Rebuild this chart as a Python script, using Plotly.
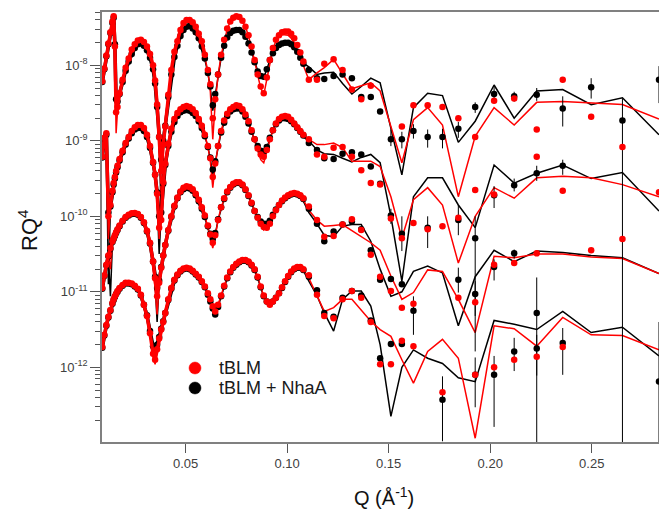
import plotly.graph_objects as go

# ---------------- Q grid (Å^-1) ----------------
Q_LOW = [0.0090, 0.0100, 0.0110, 0.0120, 0.0130, 0.0140, 0.0146, 0.0152, 0.0158, 0.0165,
         0.0175, 0.0190, 0.0205, 0.0220, 0.0235, 0.0250, 0.0265, 0.0280, 0.0295, 0.0310,
         0.0325, 0.0340, 0.0350, 0.0360, 0.0370, 0.0380, 0.0390, 0.0400, 0.0415, 0.0430,
         0.0445, 0.0460, 0.0475, 0.0490, 0.0505, 0.0520, 0.0535, 0.0550, 0.0565, 0.0580,
         0.0595, 0.0610, 0.0622, 0.0634, 0.0646, 0.0660, 0.0675, 0.0690, 0.0705, 0.0720,
         0.0735, 0.0750, 0.0765, 0.0780, 0.0795, 0.0810, 0.0825, 0.0840, 0.0855, 0.0870,
         0.0885, 0.0900, 0.0915, 0.0930, 0.0945, 0.0960, 0.0975, 0.0990, 0.1005, 0.1020,
         0.1035, 0.1050, 0.1065, 0.1080]
Q_HIGH = [0.1107, 0.1147, 0.1183, 0.1229, 0.1273, 0.1319, 0.1365, 0.1412, 0.1458, 0.1511,
          0.1565, 0.1622, 0.1692, 0.1765, 0.1843, 0.1926, 0.2019, 0.2118, 0.2229, 0.2357,
          0.2497, 0.2651, 0.2831]
Q = Q_LOW + Q_HIGH
N_CHAIN = 41  # densely sampled part (q <= 0.061) where the measured points merge into a band

# ---------------- log10(R Q^4) ----------------
# Set 1 (bottom)
s1_red = [-11.73, -11.57, -11.44, -11.33, -11.24, -11.15, -11.10, -11.06, -11.03, -10.99,
          -10.95, -10.91, -10.88, -10.88, -10.89, -10.92, -10.96, -11.04, -11.17, -11.32,
          -11.55, -11.82, -11.90, -11.76, -11.62, -11.50, -11.40, -11.28, -11.10, -10.95,
          -10.84, -10.77, -10.72, -10.69, -10.68, -10.69, -10.72, -10.76, -10.80, -10.86,
          -10.93, -11.02, -11.10, -11.19, -11.26, -11.17, -11.05, -10.92, -10.81, -10.73,
          -10.67, -10.63, -10.60, -10.58, -10.58, -10.60, -10.64, -10.70, -10.80, -10.93,
          -11.05, -11.13, -11.17, -11.13, -11.08, -11.02, -10.94, -10.86, -10.79, -10.73,
          -10.69, -10.67, -10.67, -10.70,
          -10.78, -11.04, -11.32, -11.35, -11.10, -10.99, -11.08, -11.40, -11.96, -11.96,
          -11.65, -11.72, None, -12.33, None, -12.10, -12.00, -11.90, -11.86, -11.73,
          None, None, None]
s1_black = [-11.74, -11.58, -11.45, -11.34, -11.25, -11.16, -11.11, -11.07, -11.03, -11.00,
            -10.96, -10.92, -10.89, -10.89, -10.90, -10.93, -10.97, -11.05, -11.17, -11.31,
            -11.52, -11.72, -11.77, -11.70, -11.60, -11.49, -11.39, -11.28, -11.11, -10.96,
            -10.85, -10.78, -10.73, -10.70, -10.69, -10.70, -10.73, -10.77, -10.81, -10.87,
            -10.94, -11.04, -11.13, -11.22, -11.30, -11.20, -11.06, -10.93, -10.82, -10.74,
            -10.68, -10.64, -10.61, -10.59, -10.59, -10.61, -10.65, -10.71, -10.81, -10.94,
            -11.06, -11.13, -11.16, -11.13, -11.08, -11.02, -10.95, -10.87, -10.80, -10.74,
            -10.70, -10.68, -10.68, -10.71,
            -10.80, -10.98, -11.28, -11.33, -11.08, -10.99, -11.05, -11.38, -11.88, -11.69,
            -11.69, None, None, -12.43, None, -12.10, -12.10, -11.79, -11.75, -11.68,
            None, None, -12.19]
s1_black_err_hi = [None, None, None, None, None, None, None, None, None, None,
                   None, None, None, -12.12, None, -11.87, -11.85, -11.61, -11.57, -11.48,
                   None, None, -11.40]
s1_black_err_lo = [None, None, None, None, None, None, None, None, None, None,
                   None, None, None, -12.98, None, -12.53, -12.79, -12.05, -12.11, -12.10,
                   None, None, -14.0]
s1_red_fit = [-11.73, -11.57, -11.44, -11.33, -11.24, -11.15, -11.10, -11.06, -11.03, -10.99,
              -10.95, -10.91, -10.88, -10.88, -10.89, -10.92, -10.96, -11.04, -11.17, -11.33,
              -11.57, -11.86, -11.96, -11.78, -11.63, -11.50, -11.40, -11.28, -11.10, -10.95,
              -10.84, -10.77, -10.72, -10.69, -10.68, -10.69, -10.72, -10.76, -10.81, -10.87,
              -10.94, -11.04, -11.13, -11.22, -11.28, -11.18, -11.05, -10.92, -10.81, -10.73,
              -10.67, -10.63, -10.60, -10.58, -10.58, -10.60, -10.64, -10.70, -10.80, -10.93,
              -11.06, -11.14, -11.17, -11.13, -11.08, -11.02, -10.94, -10.86, -10.79, -10.73,
              -10.69, -10.67, -10.67, -10.71,
              -10.82, -11.05, -11.26, -11.21, -11.10, -11.10, -11.25, -11.39, -11.50, -11.59,
              -11.90, -12.21, -11.79, -11.63, -11.88, -12.94, -11.45, -11.49, -11.72, -11.34,
              -11.57, -11.58, -11.77]
s1_black_fit = [-11.74, -11.58, -11.45, -11.34, -11.25, -11.16, -11.11, -11.07, -11.03, -11.00,
                -10.96, -10.92, -10.89, -10.89, -10.90, -10.93, -10.98, -11.06, -11.18, -11.33,
                -11.55, -11.80, -11.85, -11.72, -11.60, -11.49, -11.39, -11.28, -11.11, -10.96,
                -10.85, -10.78, -10.73, -10.70, -10.69, -10.70, -10.73, -10.77, -10.82, -10.88,
                -10.95, -11.05, -11.15, -11.26, -11.32, -11.21, -11.07, -10.94, -10.83, -10.75,
                -10.69, -10.65, -10.62, -10.60, -10.60, -10.62, -10.66, -10.72, -10.82, -10.95,
                -11.07, -11.15, -11.19, -11.14, -11.08, -11.02, -10.95, -10.87, -10.80, -10.74,
                -10.70, -10.68, -10.68, -10.72,
                -10.86, -11.05, -11.28, -11.52, -11.10, -10.99, -10.99, -11.19, -11.70, -12.65,
                -12.00, -11.77, -11.88, -11.95, -12.14, -12.19, -11.38, -11.43, -11.50, -11.26,
                -11.54, -11.47, -11.85]

# Set 2
s2_red = [-9.21, -8.96, -8.90, -10.00, -9.85, -9.66, -9.56, -9.48, -9.40, -9.33,
          -9.24, -9.13, -9.03, -8.95, -8.87, -8.82, -8.79, -8.79, -8.83, -8.92,
          -9.07, -9.28, -9.45, -9.70, -10.15, -10.05, -9.55, -9.30, -9.04, -8.84,
          -8.71, -8.63, -8.58, -8.55, -8.54, -8.55, -8.58, -8.63, -8.71, -8.80,
          -8.92, -9.07, -9.23, -9.48, -9.30, -9.07, -8.87, -8.73, -8.64, -8.58,
          -8.55, -8.53, -8.54, -8.58, -8.65, -8.74, -8.86, -8.98, -9.10, -9.18,
          -9.21, -9.12, -8.98, -8.86, -8.77, -8.71, -8.68, -8.67, -8.68, -8.72,
          -8.77, -8.82, -8.87, -8.92,
          -8.98, -9.18, -9.21, -9.09, -9.08, -9.21, -9.39, -9.56, -9.58, -10.03,
          -10.29, -10.09, -10.17, -10.13, -10.02, -9.65, -9.71, None, -9.21, -9.66,
          None, None, -9.68]
s2_black = [-9.22, -8.98, -8.92, -9.95, -9.87, -9.68, -9.58, -9.50, -9.42, -9.35,
            -9.26, -9.15, -9.05, -8.97, -8.90, -8.85, -8.83, -8.83, -8.87, -8.95,
            -9.09, -9.29, -9.45, -9.68, -10.00, -9.95, -9.57, -9.32, -9.07, -8.88,
            -8.75, -8.67, -8.62, -8.60, -8.59, -8.60, -8.63, -8.67, -8.74, -8.83,
            -8.94, -9.08, -9.22, -9.38, -9.27, -9.07, -8.89, -8.76, -8.67, -8.61,
            -8.58, -8.57, -8.57, -8.61, -8.68, -8.77, -8.88, -8.98, -9.07, -9.13,
            -9.14, -9.08, -8.96, -8.86, -8.78, -8.73, -8.70, -8.70, -8.71, -8.74,
            -8.78, -8.83, -8.88, -8.93,
            -9.03, -9.12, -9.23, -9.24, -9.17, -9.15, -9.18, -9.34, -9.57, -9.99,
            -10.23, None, -10.15, None, -10.05, -10.29, -9.72, -9.59, -9.43, -9.33,
            None, None, None]
s2_black_err_hi = [None, None, None, None, None, None, None, None, None, -9.90,
                   -10.00, None, -10.00, None, -9.85, -10.00, -9.60, -9.50, -9.33, -9.25,
                   None, None, None]
s2_black_err_lo = [None, None, None, None, None, None, None, None, None, -10.10,
                   -10.46, None, -10.42, None, -10.25, -11.79, -9.89, -9.67, -9.53, -9.45,
                   None, None, None]
s2_red_fit = [-9.21, -8.96, -8.90, -10.30, -9.87, -9.66, -9.56, -9.48, -9.40, -9.33,
              -9.24, -9.13, -9.03, -8.95, -8.87, -8.82, -8.79, -8.79, -8.83, -8.92,
              -9.07, -9.28, -9.46, -9.75, -10.30, -10.00, -9.55, -9.30, -9.04, -8.84,
              -8.71, -8.63, -8.58, -8.55, -8.54, -8.55, -8.58, -8.63, -8.71, -8.80,
              -8.92, -9.08, -9.27, -9.62, -9.32, -9.07, -8.87, -8.73, -8.64, -8.58,
              -8.54, -8.52, -8.52, -8.56, -8.64, -8.74, -8.87, -9.00, -9.14, -9.25,
              -9.29, -9.15, -8.98, -8.85, -8.76, -8.70, -8.67, -8.66, -8.67, -8.71,
              -8.76, -8.82, -8.87, -8.92,
              -8.98, -9.05, -9.05, -9.03, -9.09, -9.27, -9.27, -9.27, -9.34, -9.74,
              -10.29, -9.78, -9.62, -9.85, -10.62, -10.00, -9.62, -9.76, -9.49, -9.47,
              -9.49, -9.58, -9.74]
s2_black_fit = [-9.22, -8.98, -8.92, -10.90, -9.90, -9.68, -9.58, -9.50, -9.42, -9.35,
                -9.26, -9.15, -9.05, -8.97, -8.90, -8.85, -8.83, -8.83, -8.87, -8.95,
                -9.09, -9.29, -9.47, -9.75, -10.50, -9.98, -9.58, -9.32, -9.07, -8.88,
                -8.75, -8.67, -8.62, -8.60, -8.59, -8.60, -8.63, -8.67, -8.74, -8.83,
                -8.94, -9.08, -9.24, -9.45, -9.28, -9.07, -8.89, -8.76, -8.67, -8.61,
                -8.58, -8.57, -8.57, -8.61, -8.68, -8.77, -8.88, -8.99, -9.09, -9.16,
                -9.18, -9.09, -8.96, -8.86, -8.78, -8.73, -8.71, -8.70, -8.71, -8.74,
                -8.79, -8.84, -8.89, -8.95,
                -9.00, -9.12, -9.17, -9.18, -9.23, -9.28, -9.22, -9.18, -9.29, -10.00,
                -10.86, -9.74, -9.49, -9.49, -9.85, -10.15, -9.32, -9.56, -9.43, -9.32,
                -9.50, -9.42, -9.93]

# Set 3
s3_red = [-10.95, -10.78, -10.64, -10.52, -10.42, -10.33, -10.29, -10.25, -10.21, -10.17,
          -10.12, -10.06, -10.01, -9.98, -9.96, -9.955, -9.97, -10.01, -10.08, -10.19,
          -10.35, -10.60, -10.82, -11.06, -10.88, -10.68, -10.52, -10.38, -10.18, -10.00,
          -9.86, -9.75, -9.67, -9.62, -9.60, -9.61, -9.64, -9.70, -9.78, -9.88,
          -9.99, -10.12, -10.24, -10.35, -10.25, -10.05, -9.88, -9.76, -9.67, -9.61,
          -9.57, -9.55, -9.55, -9.58, -9.64, -9.72, -9.82, -9.93, -10.02, -10.10,
          -10.14, -10.15, -10.10, -10.00, -9.92, -9.85, -9.79, -9.75, -9.72, -9.70,
          -9.69, -9.70, -9.72, -9.76,
          -9.87, -10.05, -10.27, -10.26, -10.11, -10.04, -10.18, -10.51, -10.80, -10.99,
          -11.21, -11.16, None, None, -11.08, -11.14, -10.64, -10.62, -10.49, None,
          -10.45, -10.30, None]
s3_black = [-10.96, -10.79, -10.65, -10.53, -10.43, -10.34, -10.30, -10.26, -10.22, -10.18,
            -10.13, -10.07, -10.02, -9.99, -9.97, -9.965, -9.98, -10.02, -10.09, -10.20,
            -10.36, -10.60, -10.80, -10.95, -10.85, -10.67, -10.52, -10.38, -10.19, -10.01,
            -9.87, -9.76, -9.68, -9.64, -9.62, -9.63, -9.66, -9.72, -9.80, -9.90,
            -10.01, -10.13, -10.23, -10.30, -10.22, -10.04, -9.88, -9.77, -9.68, -9.62,
            -9.58, -9.56, -9.56, -9.59, -9.65, -9.73, -9.83, -9.93, -10.01, -10.07,
            -10.10, -10.10, -10.06, -9.98, -9.91, -9.85, -9.80, -9.76, -9.73, -9.71,
            -9.70, -9.71, -9.73, -9.77,
            -9.90, -10.10, -10.33, -10.20, -10.11, -10.07, -10.17, -10.45, -10.84, -10.83,
            -10.90, -11.25, None, None, -10.84, -11.03, -10.67, -10.49, -11.28, None,
            None, None, None]
s3_black_err_hi = [None, None, None, None, None, None, None, None, None, None,
                   None, -11.06, None, None, -10.68, -10.86, -10.57, -10.44, -10.81, None,
                   None, None, None]
s3_black_err_lo = [None, None, None, None, None, None, None, None, None, None,
                   None, -11.57, None, None, -11.01, -11.32, -10.85, -10.56, -14.0, None,
                   None, None, None]
s3_red_fit = [-10.95, -10.78, -10.64, -10.52, -10.70, -10.35, -10.30, -10.25, -10.21, -10.17,
              -10.12, -10.06, -10.01, -9.98, -9.96, -9.955, -9.97, -10.01, -10.08, -10.19,
              -10.36, -10.64, -10.92, -11.30, -10.90, -10.69, -10.52, -10.38, -10.18, -10.00,
              -9.86, -9.75, -9.67, -9.62, -9.60, -9.61, -9.64, -9.70, -9.78, -9.88,
              -10.00, -10.14, -10.28, -10.42, -10.27, -10.05, -9.88, -9.76, -9.67, -9.61,
              -9.57, -9.55, -9.55, -9.58, -9.64, -9.72, -9.82, -9.93, -10.03, -10.12,
              -10.18, -10.13, -10.05, -9.97, -9.89, -9.83, -9.78, -9.74, -9.71, -9.69,
              -9.68, -9.69, -9.72, -9.78,
              -9.92, -10.05, -10.13, -10.12, -10.11, -10.19, -10.27, -10.35, -10.45, -10.79,
              -11.10, -11.01, -10.71, -10.73, -11.10, -11.54, -10.53, -10.55, -10.50, -10.50,
              -10.54, -10.56, -10.76]
s3_black_fit = [-10.96, -10.79, -10.65, -10.53, -11.06, -10.36, -10.31, -10.26, -10.22, -10.18,
                -10.13, -10.07, -10.02, -9.99, -9.97, -9.965, -9.98, -10.02, -10.09, -10.20,
                -10.37, -10.63, -10.88, -11.40, -10.88, -10.68, -10.52, -10.38, -10.19, -10.01,
                -9.87, -9.76, -9.68, -9.64, -9.62, -9.63, -9.66, -9.72, -9.80, -9.90,
                -10.02, -10.15, -10.27, -10.33, -10.24, -10.05, -9.89, -9.77, -9.68, -9.62,
                -9.58, -9.56, -9.56, -9.59, -9.65, -9.73, -9.83, -9.93, -10.02, -10.08,
                -10.12, -10.11, -10.06, -9.98, -9.91, -9.85, -9.80, -9.76, -9.73, -9.71,
                -9.70, -9.71, -9.74, -9.80,
                -9.95, -10.10, -10.25, -10.27, -10.13, -10.11, -10.11, -10.33, -10.70, -11.06,
                -11.00, -10.73, -10.66, -10.75, -11.45, -10.80, -10.45, -10.60, -10.46, -10.48,
                -10.52, -10.55, -10.76]

# Set 4 (top)
s4_red = [-8.21, -8.04, -7.87, -7.71, -7.56, -7.42, -7.35, -7.75, -8.62, -8.55,
          -8.37, -8.19, -8.03, -7.91, -7.79, -7.72, -7.67, -7.66, -7.69, -7.75,
          -7.85, -8.00, -8.20, -8.52, -8.95, -9.40, -9.05, -8.81, -8.39, -8.06,
          -7.82, -7.68, -7.53, -7.44, -7.40, -7.40, -7.43, -7.49, -7.58, -7.68,
          -7.86, -8.06, -8.25, -8.70, -8.45, -8.12, -7.86, -7.66, -7.51, -7.42,
          -7.37, -7.35, -7.36, -7.41, -7.49, -7.60, -7.75, -7.93, -8.12, -8.28,
          -8.37, -8.16, -7.93, -7.77, -7.66, -7.60, -7.56, -7.55, -7.55, -7.58,
          -7.64, -7.73, -7.83, -7.95,
          -8.19, -8.19, -7.98, -7.92, -8.06, -8.32, -8.45, -8.27, None, None,
          -8.81, -8.53, -8.53, -8.55, -8.70, -8.95, -8.47, -8.44, -8.85, -8.19,
          -8.68, -9.08, None]
s4_black = [-8.22, -8.05, -7.88, -7.72, -7.57, -7.44, -7.37, -7.72, -8.45, -8.48,
            -8.38, -8.22, -8.07, -7.95, -7.85, -7.77, -7.72, -7.71, -7.74, -7.80,
            -7.90, -8.05, -8.24, -8.55, -8.95, -9.25, -9.00, -8.80, -8.42, -8.12,
            -7.89, -7.74, -7.61, -7.53, -7.49, -7.48, -7.51, -7.56, -7.64, -7.75,
            -7.91, -8.10, -8.28, -8.53, -8.38, -8.12, -7.90, -7.74, -7.63, -7.57,
            -7.54, -7.53, -7.53, -7.56, -7.62, -7.71, -7.83, -7.96, -8.08, -8.14,
            -8.15, -8.05, -7.93, -7.84, -7.77, -7.73, -7.71, -7.70, -7.70, -7.72,
            -7.76, -7.82, -7.90, -7.98,
            -8.06, -8.17, -8.18, -8.14, -8.12, -8.17, -8.42, -8.42, -8.61, -8.98,
            -8.98, -8.87, -8.95, -8.95, -8.84, -8.55, -8.38, -8.41, -8.39, -8.57,
            -8.29, -8.73, -8.19]
s4_black_err_hi = [None, None, None, None, None, None, None, None, None, -8.85,
                   -8.88, -8.78, -8.85, -8.84, -8.75, -8.49, -8.28, -8.35, -8.30, -8.41,
                   -8.17, -8.44, -8.01]
s4_black_err_lo = [None, None, None, None, None, None, None, None, None, -9.07,
                   -9.10, -8.97, -9.09, -9.10, -8.96, -8.63, -8.45, -8.48, -8.47, -8.81,
                   -8.44, -14.0, -8.50]
s4_red_fit = [-8.21, -8.04, -7.87, -7.71, -7.56, -7.42, -7.35, -7.78, -8.90, -8.60,
              -8.37, -8.19, -8.03, -7.91, -7.79, -7.72, -7.67, -7.66, -7.69, -7.75,
              -7.85, -8.00, -8.20, -8.55, -9.05, -9.70, -9.10, -8.81, -8.39, -8.06,
              -7.82, -7.66, -7.52, -7.43, -7.39, -7.39, -7.42, -7.48, -7.57, -7.70,
              -7.87, -8.08, -8.35, -8.98, -8.50, -8.13, -7.87, -7.67, -7.52, -7.42,
              -7.37, -7.35, -7.36, -7.41, -7.49, -7.61, -7.76, -7.94, -8.13, -8.30,
              -8.39, -8.18, -7.94, -7.78, -7.68, -7.62, -7.59, -7.59, -7.60, -7.64,
              -7.70, -7.79, -7.90, -8.02,
              -8.19, -8.10, -8.03, -7.92, -8.11, -8.31, -8.27, -8.23, -8.34, -8.80,
              -9.29, -8.72, -8.56, -8.79, -9.74, -8.94, -8.56, -8.79, -8.49, -8.48,
              -8.50, -8.52, -8.71]
s4_black_fit = [-8.22, -8.05, -7.88, -7.72, -7.57, -7.44, -7.37, -7.75, -8.55, -8.50,
                -8.38, -8.22, -8.07, -7.95, -7.85, -7.77, -7.72, -7.71, -7.74, -7.80,
                -7.90, -8.05, -8.25, -8.58, -9.10, -9.90, -9.05, -8.80, -8.42, -8.12,
                -7.89, -7.74, -7.61, -7.53, -7.49, -7.48, -7.51, -7.56, -7.64, -7.75,
                -7.91, -8.10, -8.30, -8.60, -8.40, -8.13, -7.90, -7.74, -7.63, -7.57,
                -7.54, -7.52, -7.52, -7.55, -7.61, -7.70, -7.82, -7.95, -8.07, -8.14,
                -8.16, -8.05, -7.92, -7.82, -7.75, -7.71, -7.69, -7.69, -7.70, -7.73,
                -7.78, -7.84, -7.91, -7.97,
                -8.02, -8.12, -8.10, -8.09, -8.24, -8.38, -8.28, -8.17, -8.23, -8.83,
                -9.45, -8.56, -8.37, -8.40, -9.02, -8.74, -8.26, -8.70, -8.34, -8.32,
                -8.52, -8.43, -8.92]

Y_TICK_EXP = [-12, -11, -10, -9, -8]
X_TICKS = [0.05, 0.10, 0.15, 0.20, 0.25]
X_TICK_TEXT = ["0.05", "0.10", "0.15", "0.20", "0.25"]
LEGEND_LABELS = ["tBLM", "tBLM + NhaA"]

RED = "#ff0000"
BLACK = "#000000"
FONT = "Liberation Sans, Arial, sans-serif"

all_series = {
    "s1_red": s1_red, "s1_black": s1_black, "s1_red_fit": s1_red_fit, "s1_black_fit": s1_black_fit,
    "s2_red": s2_red, "s2_black": s2_black, "s2_red_fit": s2_red_fit, "s2_black_fit": s2_black_fit,
    "s3_red": s3_red, "s3_black": s3_black, "s3_red_fit": s3_red_fit, "s3_black_fit": s3_black_fit,
    "s4_red": s4_red, "s4_black": s4_black, "s4_red_fit": s4_red_fit, "s4_black_fit": s4_black_fit,
}
for name, arr in all_series.items():
    if len(arr) != len(Q):
        raise ValueError(f"{name} has {len(arr)} values, expected {len(Q)}")


def lin(vals):
    return [None if v is None else 10.0 ** v for v in vals]


def err_arrays(vals, hi, lo):
    n_low = len(Q_LOW)
    plus = [0.0] * n_low
    minus = [0.0] * n_low
    for v, h, l in zip(vals[n_low:], hi, lo):
        if v is None or h is None:
            plus.append(0.0)
            minus.append(0.0)
        else:
            plus.append(10.0 ** h - 10.0 ** v)
            minus.append(10.0 ** v - 10.0 ** l)
    return plus, minus


fig = go.Figure()

sets = [
    (s1_red, s1_black, s1_red_fit, s1_black_fit, s1_black_err_hi, s1_black_err_lo),
    (s2_red, s2_black, s2_red_fit, s2_black_fit, s2_black_err_hi, s2_black_err_lo),
    (s3_red, s3_black, s3_red_fit, s3_black_fit, s3_black_err_hi, s3_black_err_lo),
    (s4_red, s4_black, s4_red_fit, s4_black_fit, s4_black_err_hi, s4_black_err_lo),
]

# model fits
for red, black, red_fit, black_fit, ehi, elo in sets:
    fig.add_trace(go.Scatter(x=Q, y=lin(black_fit), mode="lines",
                             line=dict(color=BLACK, width=1.5), showlegend=False, hoverinfo="skip"))
    fig.add_trace(go.Scatter(x=Q, y=lin(red_fit), mode="lines",
                             line=dict(color=RED, width=1.5), showlegend=False, hoverinfo="skip"))

# measured data: black (tBLM + NhaA) then red (tBLM) on top
for colour, idx in ((BLACK, 1), (RED, 0)):
    for s in sets:
        vals = s[idx]
        # dense low-Q part: points so close they merge into a band
        fig.add_trace(go.Scatter(x=Q[:N_CHAIN], y=lin(vals[:N_CHAIN]), mode="lines",
                                 line=dict(color=colour, width=3.5), showlegend=False,
                                 hoverinfo="skip"))
        if idx == 1:
            plus, minus = err_arrays(vals, s[4], s[5])
            err = dict(type="data", symmetric=False, array=plus, arrayminus=minus,
                       color=BLACK, thickness=1, width=0)
        else:
            err = None
        fig.add_trace(go.Scatter(x=Q, y=lin(vals), mode="markers",
                                 marker=dict(color=colour, size=6.5),
                                 error_y=err, showlegend=False))

# legend (drawn in paper coordinates)
def px_x(px):
    return (px - 102) / 557.0


def px_y(py):
    return (442 - py) / 430.0


shapes = []
annotations = []
for label, colour, cy in ((LEGEND_LABELS[0], RED, 368), (LEGEND_LABELS[1], BLACK, 388)):
    shapes.append(dict(type="circle", xref="paper", yref="paper",
                       x0=px_x(189), x1=px_x(201), y0=px_y(cy + 6), y1=px_y(cy - 6),
                       fillcolor=colour, line=dict(color=colour, width=0.5)))
    annotations.append(dict(text=label, xref="paper", yref="paper", x=px_x(217), y=px_y(cy),
                            xanchor="left", yanchor="middle", showarrow=False,
                            font=dict(size=18, color="#1a1a1a", family=FONT)))

annotations.append(dict(text="RQ<sup>4</sup>", xref="paper", yref="paper", x=px_x(28), y=px_y(230),
                        textangle=-90, showarrow=False,
                        font=dict(size=22, color="#111111", family=FONT),
                        xanchor="center", yanchor="middle"))
annotations.append(dict(text="Q (Å<sup>-1</sup>)", xref="paper", yref="paper", x=px_x(384), y=px_y(496),
                        showarrow=False, font=dict(size=20, color="#111111", family=FONT),
                        xanchor="center", yanchor="middle"))

minor_vals = [m * 10.0 ** e for e in range(-13, -7) for m in range(2, 10)]

fig.update_layout(
    width=659, height=509,
    margin=dict(l=102, r=0, t=12, b=67),
    paper_bgcolor="white", plot_bgcolor="white",
    font=dict(family=FONT, color="#333333"),
    showlegend=False,
    shapes=shapes,
    annotations=annotations,
    xaxis=dict(range=[0.00886, 0.2831], showgrid=False, zeroline=False,
               showline=True, linecolor="#808080", linewidth=1.5, mirror=True,
               ticks="outside", ticklen=9, tickwidth=1.2, tickcolor="#555555",
               tickmode="array", tickvals=X_TICKS, ticktext=X_TICK_TEXT,
               tickfont=dict(size=13, color="#404040", family=FONT)),
    yaxis=dict(type="log", range=[-12.99, -7.293], showgrid=False, zeroline=False,
               showline=True, linecolor="#808080", linewidth=1.5, mirror=False,
               ticks="outside", ticklen=10, tickwidth=1.2, tickcolor="#555555",
               tickmode="array", tickvals=[10.0 ** e for e in Y_TICK_EXP],
               ticktext=[f"10<sup>{e}</sup>" for e in Y_TICK_EXP],
               tickfont=dict(size=13, color="#404040", family=FONT),
               minor=dict(ticks="outside", ticklen=5, tickwidth=1.2, tickcolor="#555555",
                          tickmode="array", tickvals=minor_vals, showgrid=False)),
)

fig.write_html("out.html")
